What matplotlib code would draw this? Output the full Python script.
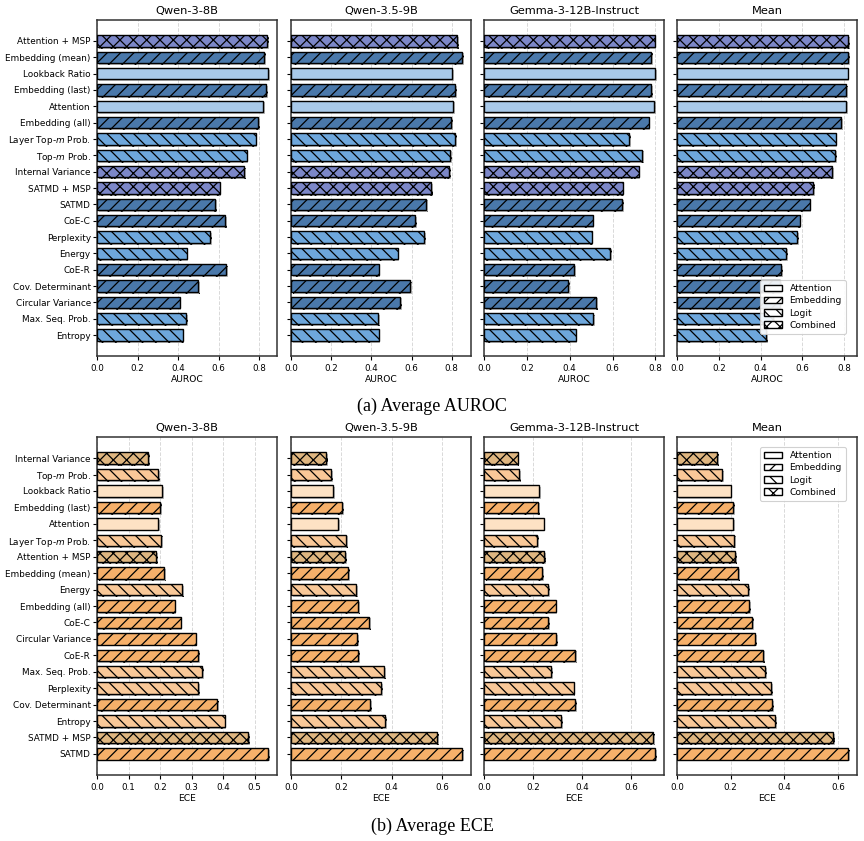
import matplotlib
matplotlib.use("Agg")
import matplotlib.pyplot as plt
import matplotlib.patheffects as pe
from matplotlib.patches import Patch

models = ["Qwen-3-8B", "Qwen-3.5-9B", "Gemma-3-12B-Instruct", "Mean"]

# ---------------- AUROC (top row) ----------------
auroc_methods = ["Attention + MSP", "Embedding (mean)", "Lookback Ratio", "Embedding (last)",
                 "Attention", "Embedding (all)", "Layer Top-$m$ Prob.", "Top-$m$ Prob.",
                 "Internal Variance", "SATMD + MSP", "SATMD", "CoE-C", "Perplexity",
                 "Energy", "CoE-R", "Cov. Determinant", "Circular Variance",
                 "Max. Seq. Prob.", "Entropy"]
auroc_types = ["Combined", "Embedding", "Attention", "Embedding", "Attention", "Embedding",
               "Logit", "Logit", "Combined", "Combined", "Embedding", "Embedding", "Logit",
               "Logit", "Embedding", "Embedding", "Embedding", "Logit", "Logit"]
auroc_qwen3 = [0.838, 0.823, 0.845, 0.833, 0.818, 0.793, 0.782, 0.737, 0.724, 0.604, 0.581,
               0.632, 0.556, 0.442, 0.637, 0.500, 0.407, 0.439, 0.422]
auroc_qwen35 = [0.825, 0.853, 0.803, 0.818, 0.808, 0.798, 0.818, 0.793, 0.785, 0.698, 0.674,
                0.618, 0.664, 0.530, 0.436, 0.591, 0.544, 0.434, 0.436]
auroc_gemma = [0.796, 0.780, 0.800, 0.780, 0.795, 0.768, 0.678, 0.738, 0.721, 0.647, 0.646,
               0.507, 0.502, 0.590, 0.421, 0.392, 0.522, 0.510, 0.427]
auroc_mean = [0.820, 0.819, 0.816, 0.810, 0.807, 0.786, 0.759, 0.756, 0.743, 0.650, 0.634,
              0.586, 0.574, 0.521, 0.498, 0.494, 0.491, 0.461, 0.428]

# ---------------- ECE (bottom row) ----------------
ece_methods = ["Internal Variance", "Top-$m$ Prob.", "Lookback Ratio", "Embedding (last)",
               "Attention", "Layer Top-$m$ Prob.", "Attention + MSP", "Embedding (mean)",
               "Energy", "Embedding (all)", "CoE-C", "Circular Variance", "CoE-R",
               "Max. Seq. Prob.", "Perplexity", "Cov. Determinant", "Entropy",
               "SATMD + MSP", "SATMD"]
ece_types = ["Combined", "Logit", "Attention", "Embedding", "Attention", "Logit", "Combined",
             "Embedding", "Logit", "Embedding", "Embedding", "Embedding", "Embedding", "Logit",
             "Logit", "Embedding", "Logit", "Combined", "Embedding"]
ece_qwen3 = [0.163, 0.195, 0.207, 0.201, 0.195, 0.204, 0.188, 0.214, 0.269, 0.246, 0.265,
             0.313, 0.320, 0.333, 0.322, 0.380, 0.405, 0.480, 0.544]
ece_qwen35 = [0.138, 0.158, 0.167, 0.202, 0.187, 0.218, 0.214, 0.226, 0.259, 0.266, 0.310,
              0.262, 0.266, 0.371, 0.359, 0.314, 0.375, 0.579, 0.681]
ece_gemma = [0.137, 0.143, 0.226, 0.221, 0.243, 0.215, 0.244, 0.236, 0.260, 0.292, 0.262,
             0.293, 0.372, 0.273, 0.365, 0.372, 0.315, 0.691, 0.699]
ece_mean = [0.149, 0.168, 0.200, 0.208, 0.210, 0.213, 0.217, 0.227, 0.264, 0.268, 0.279,
            0.290, 0.320, 0.327, 0.350, 0.355, 0.367, 0.583, 0.639]

auroc_colors = {"Attention": "#a8c9e9", "Embedding": "#4a78aa",
                "Logit": "#6ea7dc", "Combined": "#7c87c8"}
ece_colors = {"Attention": "#fde2c4", "Embedding": "#f6b06a",
              "Logit": "#f9c898", "Combined": "#dfb680"}
hatches = {"Attention": "", "Embedding": "//", "Logit": "\\\\", "Combined": "xx"}

DPI = 80
S = 100 / DPI  # scale factor for point-based sizes

plt.rcParams["font.family"] = ["DejaVu Sans"]
plt.rcParams["hatch.linewidth"] = 0.9 * S

fig = plt.figure(figsize=(864 / DPI, 841 / DPI), dpi=DPI)

W = 180 / 864
lefts = [97 / 864, 291 / 864, 484 / 864, 677 / 864]
rows = [
    dict(bottom=1 - 356 / 841, top=1 - 20 / 841, methods=auroc_methods, types=auroc_types,
         data=[auroc_qwen3, auroc_qwen35, auroc_gemma, auroc_mean], colors=auroc_colors,
         xlabel="AUROC", legend_loc="lower right", anchor=(1 - 11 / 180, 22 / 336),
         xticks=[0, 0.2, 0.4, 0.6, 0.8]),
    dict(bottom=1 - 775 / 841, top=1 - 437 / 841, methods=ece_methods, types=ece_types,
         data=[ece_qwen3, ece_qwen35, ece_gemma, ece_mean], colors=ece_colors,
         xlabel="ECE", legend_loc="upper right", anchor=(1 - 11 / 180, 1 - 10 / 338),
         xticks=None),
]

shadow = [pe.SimplePatchShadow(offset=(1.3 * S, -1.3 * S), shadow_rgbFace="0.55", alpha=0.6),
          pe.Normal()]

for r in rows:
    n = len(r["methods"])
    ypos = list(range(n))
    for j, (left, vals) in enumerate(zip(lefts, r["data"])):
        ax = fig.add_axes([left, r["bottom"], W, r["top"] - r["bottom"]])
        cols = [r["colors"][t] for t in r["types"]]
        bars = ax.barh(ypos, vals, height=0.7, color=cols, edgecolor="black",
                       linewidth=1.0 * S, zorder=3)
        for b, t in zip(bars, r["types"]):
            b.set_hatch(hatches[t])
            b.set_path_effects(shadow)
        ax.invert_yaxis()
        ax.set_xlim(0, max(vals) * 1.05)
        if r["xticks"] is not None:
            ax.set_xticks(r["xticks"])
        ax.grid(axis="x", linestyle="--", color="0.85", linewidth=0.7 * S, zorder=0)
        ax.set_axisbelow(True)
        ax.set_yticks(ypos)
        if j == 0:
            ax.set_yticklabels(r["methods"], fontsize=6.4 * S)
        else:
            ax.set_yticklabels([])
        ax.tick_params(axis="x", labelsize=6.3 * S, length=3 * S, width=0.8 * S, pad=2.5 * S)
        ax.tick_params(axis="y", length=3 * S, width=0.8 * S, pad=1.5 * S)
        ax.set_xlabel(r["xlabel"], fontsize=6.6 * S, labelpad=2 * S)
        ax.set_title(models[j], fontsize=8.2 * S, pad=4 * S)
        for s in ax.spines.values():
            s.set_linewidth(1.1 * S)
            s.set_color("0.2")
        if j == 3:
            handles = [Patch(facecolor="white", edgecolor="black", hatch=hatches[k], label=k,
                             linewidth=1.0 * S)
                       for k in ["Attention", "Embedding", "Logit", "Combined"]]
            ax.legend(handles=handles, loc=r["legend_loc"], bbox_to_anchor=r["anchor"],
                      borderaxespad=0, fontsize=6.6 * S, framealpha=0.9,
                      handlelength=2.0, borderpad=0.45, labelspacing=0.35)

fig.text(0.5, 1 - 406 / 841, "(a) Average AUROC", ha="center", va="center",
         fontsize=13 * S, family="Liberation Serif")
fig.text(0.5, 1 - 826 / 841, "(b) Average ECE", ha="center", va="center",
         fontsize=13 * S, family="Liberation Serif")

fig.savefig("out.png", dpi=DPI)
